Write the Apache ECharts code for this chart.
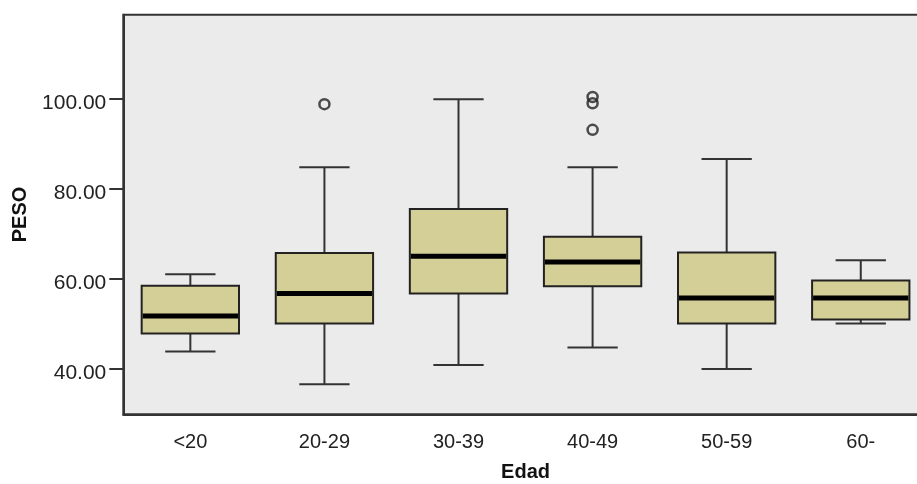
<!DOCTYPE html>
<html>
<head>
<meta charset="utf-8">
<script src="https://cdn.jsdelivr.net/npm/echarts@6/dist/echarts.min.js"></script>
<style>
  html, body { margin: 0; padding: 0; background: #ffffff; }
  #chart { width: 917px; height: 484px; }
</style>
</head>
<body>
<div id="chart"></div>
<script>
// Weight (PESO) by age group (Edad)
const categories = ['<20', '20-29', '30-39', '40-49', '50-59', '60-'];
const whiskerLow  = [43.9, 36.6, 40.9, 44.8, 40.0, 50.1];
const q1          = [47.9, 50.1, 56.8, 58.4, 50.1, 51.0];
const median      = [51.8, 56.8, 65.1, 63.8, 55.8, 55.8];
const q3          = [58.5, 65.8, 75.6, 69.4, 65.9, 59.7];
const whiskerHigh = [61.1, 84.9, 100.0, 84.9, 86.7, 64.2];
// outliers: [category index, value]
const outliers = [[1, 98.9], [3, 100.5], [3, 99.1], [3, 93.2]];
const yTicks = [40, 60, 80, 100];

const boxData = categories.map((c, i) => [i, whiskerLow[i], q1[i], median[i], q3[i], whiskerHigh[i]]);

const chart = echarts.init(document.getElementById('chart'), null, { renderer: 'canvas' });

const dark = '#333333';
const font = 'Liberation Sans, Arial, sans-serif';

function renderBox(params, api) {
  const i = api.value(0);
  const band = api.size([1, 0])[0];
  const boxW = band * 0.726;
  const capW = band * 0.375;
  const pLow = api.coord([i, api.value(1)]);
  const pQ1 = api.coord([i, api.value(2)]);
  const pMed = api.coord([i, api.value(3)]);
  const pQ3 = api.coord([i, api.value(4)]);
  const pHigh = api.coord([i, api.value(5)]);
  const cx = pMed[0];
  const line = (x1, y1, x2, y2, w, color) => ({
    type: 'line',
    shape: { x1, y1, x2, y2 },
    style: { stroke: color, lineWidth: w }
  });
  return {
    type: 'group',
    children: [
      line(cx, pHigh[1], cx, pQ3[1], 2, dark),
      line(cx, pQ1[1], cx, pLow[1], 2, dark),
      line(cx - capW / 2, pHigh[1], cx + capW / 2, pHigh[1], 2, dark),
      line(cx - capW / 2, pLow[1], cx + capW / 2, pLow[1], 2, dark),
      {
        type: 'rect',
        shape: { x: cx - boxW / 2, y: pQ3[1], width: boxW, height: pQ1[1] - pQ3[1] },
        style: { fill: '#D4CF97', stroke: '#222222', lineWidth: 2 }
      },
      line(cx - boxW / 2 + 1, pMed[1], cx + boxW / 2 - 1, pMed[1], 5, '#000000')
    ]
  };
}

chart.setOption({
  animation: false,
  backgroundColor: '#ffffff',
  grid: {
    left: 123.3,
    top: 14.7,
    width: 804.5,
    height: 399.6,
    outerBoundsMode: 'none',
    containLabel: false,
    show: true,
    backgroundColor: '#EBEBEB',
    borderColor: dark,
    borderWidth: 2
  },
  xAxis: {
    type: 'category',
    data: categories,
    boundaryGap: true,
    name: 'Edad',
    nameLocation: 'middle',
    nameGap: 48,
    nameTextStyle: { fontFamily: font, fontSize: 20, fontWeight: 'bold', color: '#111' },
    axisLine: { lineStyle: { color: dark, width: 2 } },
    axisTick: { alignWithLabel: true, length: 14, lineStyle: { color: dark, width: 2 } },
    axisLabel: { fontFamily: font, fontSize: 20, color: '#222', margin: 18 },
    splitLine: { show: false }
  },
  yAxis: {
    type: 'value',
    min: 29.93,
    max: 118.8,
    name: 'PESO',
    nameLocation: 'middle',
    nameGap: 93,
    nameRotate: 90,
    nameTextStyle: { fontFamily: font, fontSize: 20, fontWeight: 'bold', color: '#111' },
    axisLine: { show: true, lineStyle: { color: dark, width: 2 } },
    axisTick: { show: true, length: 14, customValues: yTicks, lineStyle: { color: dark, width: 2 } },
    axisLabel: {
      margin: 17,
      customValues: yTicks,
      formatter: v => '{t|' + v.toFixed(2) + '}',
      rich: {
        t: { fontFamily: font, fontSize: 21, color: '#222', padding: [8, 0, 0, 0] }
      }
    },
    splitLine: { show: false }
  },
  series: [
    {
      type: 'custom',
      renderItem: renderBox,
      data: boxData,
      encode: { x: 0, y: [1, 2, 3, 4, 5] },
      clip: true,
      z: 2
    },
    {
      type: 'scatter',
      data: outliers,
      symbol: 'circle',
      symbolSize: 10,
      itemStyle: { color: 'rgba(0,0,0,0)', borderColor: '#222', borderWidth: 2.5 },
      z: 3
    }
  ]
});
</script>
</body>
</html>
